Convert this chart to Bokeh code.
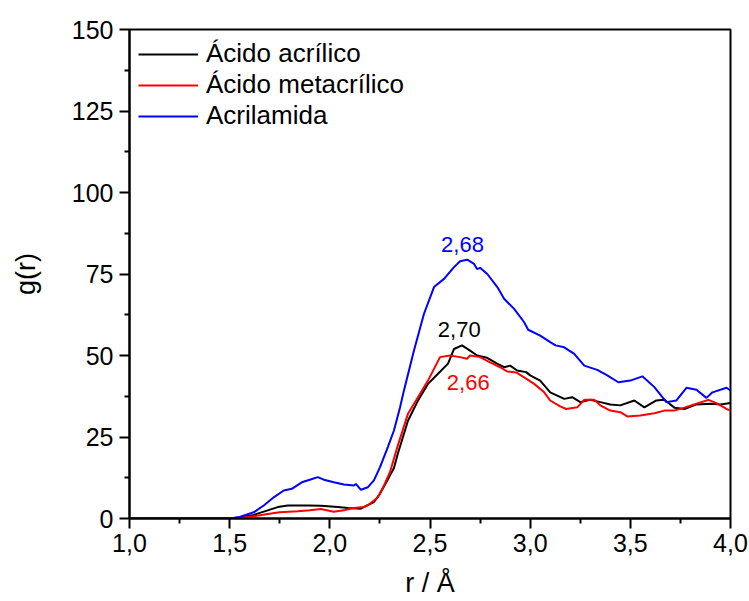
from bokeh.plotting import figure
from bokeh.models import (FixedTicker, CustomJSTickFormatter, Range1d, Legend, LegendItem, Label)
from bokeh.embed import file_html
from bokeh.resources import INLINE

# ---- data ----
r_acrilico = [1.0, 1.5, 1.55, 1.62, 1.69, 1.74, 1.79, 1.89, 1.955, 2.04, 2.09, 2.155, 2.19, 2.22, 2.25,
              2.29, 2.32, 2.34, 2.39, 2.44, 2.49, 2.54, 2.59, 2.62, 2.66, 2.70, 2.735, 2.785, 2.835, 2.87,
              2.90, 2.935, 2.98, 3.00, 3.05, 3.10, 3.17, 3.21, 3.25, 3.30, 3.35, 3.40, 3.45, 3.52, 3.57,
              3.63, 3.67, 3.72, 3.77, 3.83, 3.90, 3.95, 4.0]
g_acrilico = [0, 0, 0.3, 1.1, 2.5, 3.5, 4.0, 4.0, 3.9, 3.5, 3.2, 3.0, 4.1, 5.0, 7.6,
              12.0, 15.5, 20.0, 30.0, 36.2, 41.3, 44.4, 47.5, 52.0, 53.1, 51.5, 50.0, 49.3, 47.5, 46.4,
              46.9, 45.4, 44.9, 43.9, 42.3, 38.7, 36.7, 37.2, 35.7, 36.4, 35.7, 35.0, 34.7, 36.2, 34.1,
              36.2, 36.4, 34.0, 33.6, 35.0, 35.2, 35.0, 35.4]

r_metacrilico = [1.0, 1.5, 1.55, 1.62, 1.69, 1.75, 1.84, 1.90, 1.955, 2.02, 2.07, 2.12, 2.17, 2.20, 2.24,
                 2.27, 2.30, 2.34, 2.39, 2.44, 2.49, 2.52, 2.55, 2.60, 2.65, 2.685, 2.70, 2.75, 2.80, 2.85,
                 2.885, 2.93, 2.97, 3.02, 3.07, 3.10, 3.15, 3.18, 3.235, 3.27, 3.32, 3.35, 3.40, 3.45, 3.485,
                 3.55, 3.62, 3.67, 3.72, 3.77, 3.83, 3.89, 3.93, 3.98, 4.0]
g_metacrilico = [0, 0, 0.2, 0.7, 1.4, 1.9, 2.2, 2.5, 2.9, 2.1, 2.5, 3.2, 3.5, 4.5, 6.5,
                 10.1, 14.2, 22.5, 32.1, 37.2, 42.3, 45.9, 49.5, 50.0, 49.5, 49.0, 50.0, 49.5, 47.9, 46.4,
                 45.1, 44.8, 43.3, 41.3, 38.7, 36.2, 34.4, 33.6, 34.1, 36.4, 36.4, 34.7, 33.1, 32.6, 31.3,
                 31.6, 32.3, 33.1, 33.1, 34.0, 35.2, 36.4, 35.4, 33.6, 33.1]

r_acrilamida = [1.0, 1.5, 1.55, 1.62, 1.67, 1.72, 1.77, 1.81, 1.86, 1.90, 1.94, 1.97, 2.02, 2.07, 2.12,
                2.13, 2.155, 2.19, 2.22, 2.25, 2.29, 2.32, 2.35, 2.37, 2.42, 2.47, 2.52, 2.57, 2.62, 2.65,
                2.686, 2.72, 2.735, 2.75, 2.786, 2.836, 2.87, 2.92, 2.97, 2.99, 3.05, 3.10, 3.127, 3.17,
                3.22, 3.27, 3.335, 3.385, 3.44, 3.50, 3.56, 3.62, 3.66, 3.68, 3.73, 3.78, 3.83, 3.88,
                3.91, 3.98, 4.0]
g_acrilamida = [0, 0, 0.5, 1.9, 4.0, 6.5, 8.6, 9.1, 11.1, 11.9, 12.7, 11.9, 11.1, 10.4, 10.1,
                10.6, 8.8, 9.6, 11.7, 15.7, 22.0, 27.0, 34.0, 39.3, 51.5, 62.8, 71.0, 73.5, 77.1, 78.9,
                79.4, 78.1, 76.5, 76.9, 75.0, 71.0, 67.4, 64.3, 60.2, 57.9, 56.1, 54.1, 53.1, 52.5,
                50.5, 46.9, 45.6, 43.9, 41.8, 42.3, 43.6, 40.3, 37.2, 35.7, 36.2, 40.1, 39.5, 37.0,
                38.7, 40.1, 39.3]

series_names = ["Ácido acrílico", "Ácido metacrílico", "Acrilamida"]
peak_labels = ["2,70", "2,66", "2,68"]
peak_r = [2.646, 2.691, 2.662]
peak_g = [58.0, 41.8, 84.0]

x_ticks = [1.0, 1.5, 2.0, 2.5, 3.0, 3.5, 4.0]
x_minor = [1.25, 1.75, 2.25, 2.75, 3.25, 3.75]
y_ticks = [0, 25, 50, 75, 100, 125, 150]
y_minor = [12.5, 37.5, 62.5, 87.5, 112.5, 137.5]
x_title = "r / Å"
y_title = "g(r)"

FONT = "Liberation Sans"
colors = ["#000000", "#ff0000", "#0000ff"]

p = figure(width=749, height=601, output_backend="svg", toolbar_location=None,
           x_range=Range1d(1.0, 4.0), y_range=Range1d(0, 150),
           min_border_left=129, min_border_right=19, min_border_top=29, min_border_bottom=83)
p.grid.visible = False
p.background_fill_color = "white"
p.border_fill_color = "white"
p.outline_line_color = "#000000"
p.outline_line_width = 2
p.outline_line_alpha = 1

renderers = []
for rr, gg, c in zip([r_acrilico, r_metacrilico, r_acrilamida],
                     [g_acrilico, g_metacrilico, g_acrilamida], colors):
    renderers.append(p.line(rr, gg, line_color=c, line_width=2))

legend = Legend(items=[LegendItem(label=n, renderers=[rd]) for n, rd in zip(series_names, renderers)],
                location="top_left", border_line_alpha=0, background_fill_alpha=0,
                label_text_font=FONT, label_text_font_size="26px", label_text_color="#000000",
                glyph_width=60, glyph_height=20, label_height=20, spacing=0, padding=0, margin=9,
                label_standoff=8)
p.add_layout(legend)

for t, x, y, c in zip(peak_labels, peak_r, peak_g, colors):
    p.add_layout(Label(x=x, y=y, text=t, text_color=c, text_font=FONT, text_font_size="22px",
                       text_align="center", text_baseline="middle"))

fmt = CustomJSTickFormatter(code="return tick.toFixed(1).replace('.', ',');")
p.xaxis.ticker = FixedTicker(ticks=x_ticks, minor_ticks=x_minor)
p.xaxis.formatter = fmt
p.yaxis.ticker = FixedTicker(ticks=y_ticks, minor_ticks=y_minor)

for ax in [p.xaxis[0], p.yaxis[0]]:
    ax.axis_line_width = 2
    ax.axis_line_color = "#000000"
    ax.major_tick_line_width = 2
    ax.minor_tick_line_width = 2
    ax.major_tick_line_color = "#000000"
    ax.minor_tick_line_color = "#000000"
    ax.major_tick_out = 10
    ax.major_tick_in = 0
    ax.minor_tick_out = 5
    ax.minor_tick_in = 0
    ax.major_label_text_font = FONT
    ax.major_label_text_font_size = "25px"
    ax.major_label_text_color = "#000000"
    ax.axis_label_text_font = FONT
    ax.axis_label_text_font_size = "27px"
    ax.axis_label_text_font_style = "normal"
    ax.axis_label_text_color = "#000000"

p.xaxis.axis_label = x_title
p.yaxis.axis_label = y_title
p.xaxis.major_label_standoff = 5
p.yaxis.major_label_standoff = 6
p.xaxis.axis_label_standoff = 13
p.yaxis.axis_label_standoff = 28

open("out.html", "w").write(file_html(p, INLINE))
